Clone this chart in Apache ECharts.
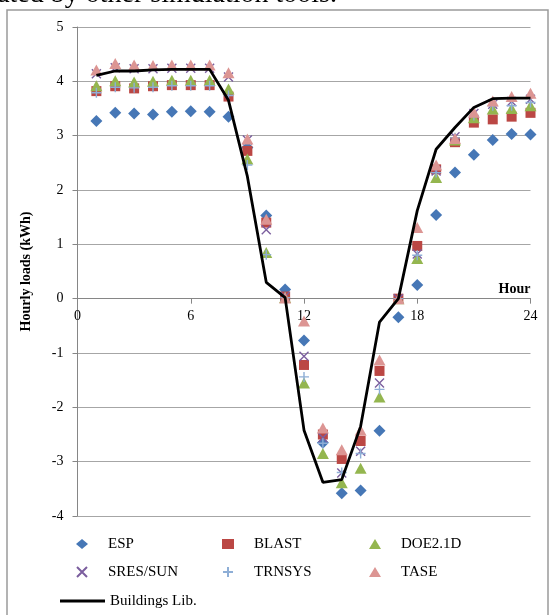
<!DOCTYPE html>
<html>
<head>
<meta charset="utf-8">
<script src="https://cdn.jsdelivr.net/npm/echarts@6/dist/echarts.min.js"></script>
<style>
  html, body { margin: 0; padding: 0; background: #fff; }
  #main { width: 550px; height: 615px; }
</style>
</head>
<body>
<div id="main"></div>
<script>
// hour of day
const hours = [1,2,3,4,5,6,7,8,9,10,11,12,13,14,15,16,17,18,19,20,21,22,23,24];
const xTicks = [0, 6, 12, 18, 24];

// hourly loads (kWh) per simulation tool
const esp       = [3.27,3.42,3.41,3.39,3.44,3.45,3.44,3.35,2.78,1.53,0.17,-0.77,-2.65,-3.58,-3.53,-2.43,-0.34,0.25,1.54,2.32,2.65,2.92,3.03,3.02];
const blast     = [3.82,3.91,3.87,3.91,3.93,3.93,3.93,3.72,2.72,1.40,0.04,-1.22,-2.50,-2.95,-2.62,-1.33,0.00,0.97,2.38,2.88,3.24,3.30,3.35,3.42];
const doe21d    = [3.92,4.01,3.99,4.00,4.02,4.02,4.02,3.86,2.57,0.85,0.02,-1.55,-2.85,-3.39,-3.12,-1.81,0.00,0.74,2.23,2.92,3.33,3.49,3.50,3.55];
const sresSun   = [4.14,4.25,4.23,4.23,4.24,4.24,4.24,4.08,2.92,1.27,0.04,-1.06,-2.56,-3.21,-2.81,-1.55,0.00,0.82,2.35,2.98,3.41,3.58,3.63,3.67];
const trnsys    = [3.79,3.89,3.88,3.89,3.92,3.92,3.92,3.74,2.46,0.81,0.02,-1.44,-2.66,-3.20,-2.85,-1.67,0.00,0.80,2.32,2.96,3.37,3.55,3.55,3.61];
const tase      = [4.21,4.33,4.30,4.29,4.30,4.30,4.30,4.16,2.94,1.46,0.01,-0.41,-2.38,-2.78,-2.42,-1.13,0.00,1.31,2.46,2.95,3.43,3.64,3.72,3.78];
const buildings = [4.11,4.19,4.19,4.21,4.22,4.22,4.22,3.65,2.25,0.30,0.02,-2.42,-3.38,-3.33,-2.35,-0.43,0.00,1.62,2.75,3.15,3.52,3.68,3.69,3.69];

const FONT = '"Liberation Serif", "Times New Roman", serif';

function pairs(vals) {
  return hours.map((h, i) => [h, vals[i]]);
}

const xMark = 'path://M0,0L10,10M10,0L0,10';
const plusMark = 'path://M5,0L5,10M0,5L10,5';

const scatterDefs = [
  { name: 'ESP',      data: esp,     symbol: 'diamond',  size: 12,      color: '#4677b6' },
  { name: 'BLAST',    data: blast,   symbol: 'rect',     size: 10,      color: '#bb4744' },
  { name: 'DOE2.1D',  data: doe21d,  symbol: 'triangle', size: [12,11], color: '#94b64f' },
  { name: 'SRES/SUN', data: sresSun, symbol: xMark,      size: 9,       color: '#7b5e9e', stroke: true },
  { name: 'TRNSYS',   data: trnsys,  symbol: plusMark,   size: 10,      color: '#8eaed6', stroke: true },
  { name: 'TASE',     data: tase,    symbol: 'triangle', size: [12,11], color: '#dc9593' }
];

const series = scatterDefs.map(d => ({
  name: d.name,
  type: 'scatter',
  data: pairs(d.data),
  symbol: d.symbol,
  symbolSize: d.size,
  itemStyle: d.stroke
    ? { color: 'rgba(0,0,0,0)', borderColor: d.color, borderWidth: 1.4, opacity: 1 }
    : { color: d.color, opacity: 1 },
  emphasis: { disabled: true }
}));

series.push({
  name: 'Buildings Lib.',
  type: 'line',
  data: pairs(buildings),
  symbol: 'none',
  lineStyle: { color: '#000', width: 2.8 },
  itemStyle: { color: '#000' },
  z: 5
});

// legend slots: [name, icon centre x, row centre y]
const legendPos = [
  ['ESP', 77, 539], ['BLAST', 223, 539], ['DOE2.1D', 370, 539],
  ['SRES/SUN', 77, 567], ['TRNSYS', 223, 567], ['TASE', 370, 567]
];

const legends = legendPos.map(p => ({
  data: [p[0]],
  left: p[1] - 6,
  top: p[2] - 8,
  itemWidth: 12,
  itemHeight: 10,
  selectedMode: false,
  textStyle: { fontFamily: FONT, fontSize: 15, color: '#000', lineHeight: 16, padding: [0, 0, 0, 15] }
}));
legends.push({
  data: [{ name: 'Buildings Lib.', icon: 'rect' }],
  left: 55,
  top: 596 - 8,
  itemWidth: 45,
  itemHeight: 3,
  selectedMode: false,
  itemStyle: { color: '#000' },
  textStyle: { fontFamily: FONT, fontSize: 15, color: '#000', lineHeight: 16 }
});

// plot height is 489px, zero sits 4/9 of it above the bottom edge
const zeroOffset = -489 * 4 / 9;

const chart = echarts.init(document.getElementById('main'), null, { renderer: 'canvas' });
chart.setOption({
  animation: false,
  backgroundColor: '#fff',
  grid: { left: 77.5, right: 19.5, top: 27, bottom: 99, containLabel: false },
  xAxis: {
    type: 'value',
    min: 0, max: 24, interval: 6,
    offset: zeroOffset,
    name: 'Hour',
    nameLocation: 'end',
    nameGap: 0,
    nameTextStyle: {
      fontFamily: FONT, fontSize: 14, fontWeight: 'bold', color: '#000',
      align: 'right', verticalAlign: 'bottom', padding: [0, 0, 2, 0]
    },
    axisLine: { onZero: false, lineStyle: { color: '#868686', width: 1 } },
    axisTick: { show: true, length: 5, lineStyle: { color: '#868686' } },
    axisLabel: {
      fontFamily: FONT, fontSize: 14, color: '#000', margin: 11,
      formatter: v => (xTicks.indexOf(v) >= 0 ? String(v) : '')
    },
    splitLine: { show: false }
  },
  yAxis: {
    type: 'value',
    min: -4, max: 5, interval: 1,
    name: 'Hourly loads (kWh)',
    nameLocation: 'middle',
    nameRotate: 90,
    nameGap: 44,
    nameTextStyle: { fontFamily: FONT, fontSize: 14, fontWeight: 'bold', color: '#000' },
    axisLine: { show: true, onZero: false, lineStyle: { color: '#868686', width: 1 } },
    axisTick: { show: true, length: 5, lineStyle: { color: '#868686' } },
    axisLabel: { fontFamily: FONT, fontSize: 14, color: '#000', margin: 14 },
    splitLine: { show: true, lineStyle: { color: '#a6a6a6', width: 1 } }
  },
  legend: legends,
  graphic: [
    {
      type: 'rect',
      shape: { x: 7, y: 10, width: 541, height: 640 },
      style: { fill: 'none', stroke: '#9a9a9a', lineWidth: 1.5 },
      silent: true
    },
    {
      type: 'text',
      right: 213,
      top: -19,
      style: {
        text: 'generated by other simulation tools.',
        font: '28px ' + FONT,
        fill: '#000'
      },
      silent: true
    }
  ],
  series: series
});
</script>
</body>
</html>
